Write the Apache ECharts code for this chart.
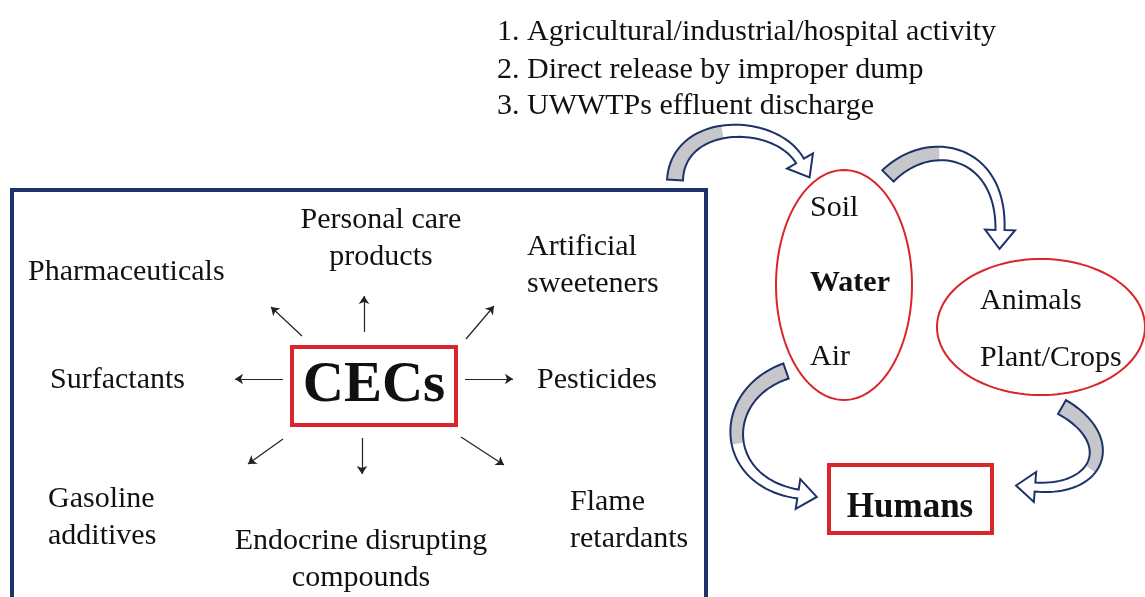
<!DOCTYPE html>
<html>
<head>
<meta charset="utf-8">
<title>CECs pathways</title>
<script src="https://cdn.jsdelivr.net/npm/echarts@6/dist/echarts.min.js"></script>
<style>
  html, body { margin: 0; padding: 0; background: #fff; }
  #chart { width: 1145px; height: 597px; }
</style>
</head>
<body>
<div id="chart"></div>
<script>
// diagram content, all placed on a hidden 1145 x 597 value grid
const sourceList = [
  "1. Agricultural/industrial/hospital activity",
  "2. Direct release by improper dump",
  "3. UWWTPs effluent discharge"
];
const sourceListPos = [[497, 32], [497, 70], [497, 106]];

const cecClasses = [
  "Personal care\nproducts",
  "Artificial\nsweeteners",
  "Pharmaceuticals",
  "Surfactants",
  "Pesticides",
  "Gasoline\nadditives",
  "Endocrine disrupting\ncompounds",
  "Flame\nretardants"
];
const cecClassPos = [[381, 239], [527, 266], [28, 272], [50, 380], [537, 380], [48, 518], [361, 560], [570, 521]];
const cecClassAlign = ["center", "left", "left", "left", "left", "left", "center", "left"];

const compartments = ["Soil", "Water", "Air"];
const compartmentPos = [[810, 208], [810, 283], [810, 357]];
const receptors = ["Animals", "Plant/Crops"];
const receptorPos = [[980, 301], [980, 358]];

const centerLabel = "CECs";
const centerPos = [374, 386];
const targetLabel = "Humans";
const targetPos = [910, 508];

// small arrows from CECs: [x1, y1, x2, y2]
const spokes = [
  [302, 336, 271, 307], [364, 332, 364, 296], [466, 339, 494, 306],
  [283, 379, 235, 379], [465, 379, 513, 379],
  [283, 439, 248, 464], [362, 438, 362, 474], [461, 437, 504, 465]
];

// frames: [x0, y0, x1, y1]
const blueFrame = [[12, 190, 706, 620]];
const redFrames = [[292, 347, 456, 425], [829, 465, 992, 533]];
// ellipses: [cx, cy, rx, ry]
const ellipses = [[844, 285, 68, 115], [1041, 327, 104, 68]];

// curved block arrows: cubic path [x0, y0, c1x, c1y, c2x, c2y, x3, y3, grayShare]
const flowArrows = [
  [675, 180, 678, 118, 775, 118, 800, 161, 0.45],
  [888, 176, 930, 134, 1002, 150, 1000, 230, 0.36],
  [786, 371, 717, 395, 720, 482, 798, 494, 0.55],
  [1062, 407, 1120, 440, 1100, 492, 1035, 487, 0.58]
];

const serif = '"Liberation Serif", "Times New Roman", serif';
const navy = "#1c3268";
const red = "#d8262c";

function textEl(text, p, align, font, api) {
  const c = api.coord(p);
  return {
    type: "text",
    x: c[0],
    y: c[1],
    style: {
      text: text,
      font: font,
      fill: "#111",
      align: align,
      verticalAlign: "middle",
      lineHeight: 37
    }
  };
}

function renderTexts(params, api) {
  if (params.dataIndex > 0) return;
  const children = [];
  const normal = "30px " + serif;
  sourceList.forEach((t, i) => children.push(textEl(t, sourceListPos[i], "left", normal, api)));
  cecClasses.forEach((t, i) => children.push(textEl(t, cecClassPos[i], cecClassAlign[i], normal, api)));
  compartments.forEach((t, i) => {
    const f = t === "Water" ? "bold 30px " + serif : normal;
    children.push(textEl(t, compartmentPos[i], "left", f, api));
  });
  receptors.forEach((t, i) => children.push(textEl(t, receptorPos[i], "left", normal, api)));
  children.push(textEl(centerLabel, centerPos, "center", "bold 57px " + serif, api));
  children.push(textEl(targetLabel, targetPos, "center", "bold 35px " + serif, api));
  return { type: "group", children: children };
}

function renderRect(color, width) {
  return function (params, api) {
    const a = api.coord([api.value(0), api.value(1)]);
    const b = api.coord([api.value(2), api.value(3)]);
    return {
      type: "rect",
      shape: { x: a[0], y: a[1], width: b[0] - a[0], height: b[1] - a[1] },
      style: { fill: "none", stroke: color, lineWidth: width }
    };
  };
}

function renderEllipse(params, api) {
  const pts = [];
  for (let i = 0; i < 120; i++) {
    const t = (i / 120) * Math.PI * 2;
    pts.push(api.coord([
      api.value(0) + api.value(2) * Math.cos(t),
      api.value(1) + api.value(3) * Math.sin(t)
    ]));
  }
  return {
    type: "polygon",
    shape: { points: pts },
    style: { fill: "none", stroke: red, lineWidth: 2 }
  };
}

function cubic(P, t) {
  const u = 1 - t;
  return [
    u * u * u * P[0][0] + 3 * u * u * t * P[1][0] + 3 * u * t * t * P[2][0] + t * t * t * P[3][0],
    u * u * u * P[0][1] + 3 * u * u * t * P[1][1] + 3 * u * t * t * P[2][1] + t * t * t * P[3][1]
  ];
}
function cubicD(P, t) {
  const u = 1 - t;
  return [
    3 * u * u * (P[1][0] - P[0][0]) + 6 * u * t * (P[2][0] - P[1][0]) + 3 * t * t * (P[3][0] - P[2][0]),
    3 * u * u * (P[1][1] - P[0][1]) + 6 * u * t * (P[2][1] - P[1][1]) + 3 * t * t * (P[3][1] - P[2][1])
  ];
}

function renderFlowArrow(params, api) {
  const P = [0, 2, 4, 6].map(i => api.coord([api.value(i), api.value(i + 1)]));
  const share = api.value(8);
  const N = 48, w0 = 16, w1 = 9, headLen = 19, headW = 30;
  const left = [], right = [];
  let nEnd = [0, 0], dEnd = [1, 0];
  for (let i = 0; i <= N; i++) {
    const t = i / N;
    const p = cubic(P, t);
    const d = cubicD(P, t);
    const len = Math.hypot(d[0], d[1]) || 1;
    const n = [-d[1] / len, d[0] / len];
    const w = w0 + (w1 - w0) * t;
    left.push([p[0] + n[0] * w / 2, p[1] + n[1] * w / 2]);
    right.push([p[0] - n[0] * w / 2, p[1] - n[1] * w / 2]);
    if (i === N) { nEnd = n; dEnd = [d[0] / len, d[1] / len]; }
  }
  const end = P[3];
  const tip = [end[0] + dEnd[0] * headLen, end[1] + dEnd[1] * headLen];
  const wingL = [end[0] + nEnd[0] * headW / 2, end[1] + nEnd[1] * headW / 2];
  const wingR = [end[0] - nEnd[0] * headW / 2, end[1] - nEnd[1] * headW / 2];
  const k = Math.round(N * share);
  const grayPts = left.slice(0, k + 1).concat(right.slice(0, k + 1).reverse());
  const outline = left.concat([wingL, tip, wingR]).concat(right.slice().reverse());
  return {
    type: "group",
    children: [
      { type: "polygon", shape: { points: outline }, style: { fill: "#fff", stroke: "none" } },
      { type: "polygon", shape: { points: grayPts }, style: { fill: "#c6c7cb", stroke: "none" } },
      { type: "polygon", shape: { points: outline }, style: { fill: "none", stroke: navy, lineWidth: 2, lineJoin: "miter" } }
    ]
  };
}

const chart = echarts.init(document.getElementById("chart"));
const option = {
  animation: false,
  backgroundColor: "#fff",
  grid: { left: 0, right: 0, top: 0, bottom: 0 },
  xAxis: { type: "value", min: 0, max: 1145, show: false },
  yAxis: { type: "value", min: 0, max: 597, inverse: true, show: false },
  series: [
    {
      type: "custom",
      clip: true,
      renderItem: renderRect(navy, 4),
      data: blueFrame
    },
    {
      type: "custom",
      renderItem: renderRect(red, 4),
      data: redFrames
    },
    {
      type: "custom",
      renderItem: renderEllipse,
      data: ellipses
    },
    {
      type: "lines",
      coordinateSystem: "cartesian2d",
      symbol: ["none", "arrow"],
      symbolSize: 8,
      lineStyle: { color: "#222", width: 1.2, opacity: 1 },
      data: spokes.map(s => ({ coords: [[s[0], s[1]], [s[2], s[3]]] }))
    },
    {
      type: "custom",
      renderItem: renderFlowArrow,
      data: flowArrows
    },
    {
      type: "custom",
      renderItem: renderTexts,
      data: [[0, 0]]
    }
  ]
};
chart.setOption(option);
</script>
</body>
</html>
